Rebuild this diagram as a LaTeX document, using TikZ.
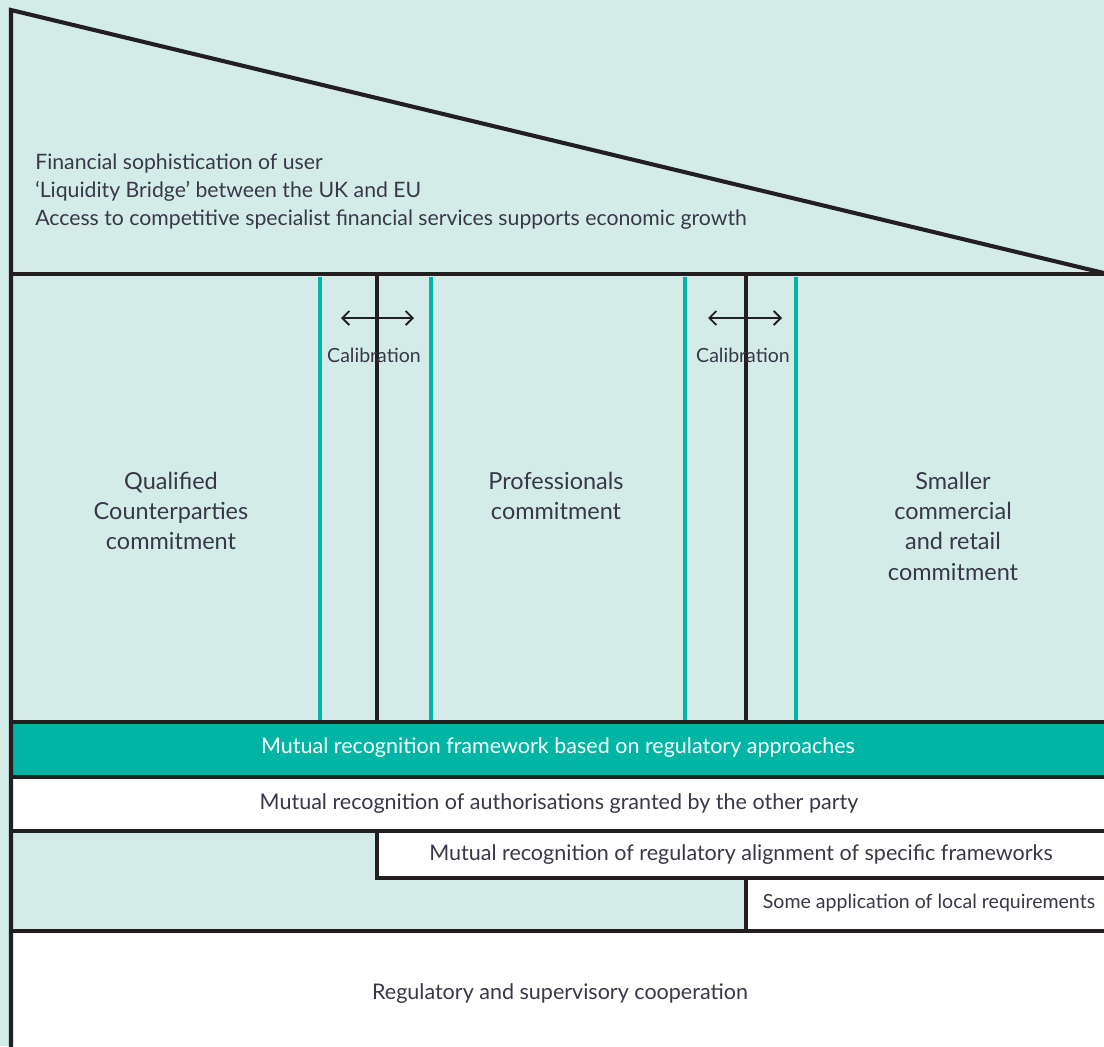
\documentclass[tikz,border=0pt]{standalone}
\usepackage{fontspec}
\setmainfont{Lato}
\usepackage{xcolor}
\usetikzlibrary{positioning, arrows.meta}
\definecolor{paleteal}{HTML}{D4ECE8}
\definecolor{mrteal}{HTML}{00B5A3}
\definecolor{inkgrey}{HTML}{383848}
\definecolor{framegrey}{HTML}{231F20}

\begin{document}
\begin{tikzpicture}[x=0.025cm, y=-0.025cm,
  frame/.style={line width=2.9pt, draw=framegrey},
  calib/.style={line width=2.8pt, draw=mrteal},
  txt/.style={text=inkgrey, inner sep=0pt, align=center},
  toptxt/.style={txt, align=left, anchor=west, font=\fontsize{15.1}{19.9}\selectfont},
  coltxt/.style={txt, font=\fontsize{16.7}{21.6}\selectfont},
  bandtxt/.style={txt, font=\fontsize{15.3}{18}\selectfont},
  smalltxt/.style={txt, font=\fontsize{13.9}{16}\selectfont}]
  % Canvas
  \useasboundingbox (0,0) rectangle (1104,1046);
  \fill[paleteal] (0,0) rectangle (1104,1046);
  % White bands
  \fill[white] (11,777) rectangle (1104,831);
  \fill[white] (377,831) rectangle (1104,878);
  \fill[white] (746,878) rectangle (1104,931);
  \fill[white] (11,931) rectangle (1104,1046);
  \fill[mrteal] (11,722) rectangle (1104,777);
  % Teal calibration lines
  \foreach \x in {320,431,685,796}
      \draw[calib] (\x,277) -- (\x,720);
  % Frame
  \draw[frame, line join=miter] (11,1050) -- (11,10) -- (1110,274.5);
  \draw[frame] (11,274) -- (1104,274);
  \draw[frame] (377,274) -- (377,722);
  \draw[frame] (746,274) -- (746,722);
  \draw[frame] (11,722) -- (1104,722);
  \draw[frame] (11,777) -- (1104,777);
  \draw[frame] (11,831) -- (1104,831);
  \draw[frame] (377,831) -- (377,878) -- (1104,878);
  \draw[frame] (746,878) -- (746,931);
  \draw[frame] (11,931) -- (1104,931);
  % Top text
  \node[toptxt] (user) at (35,192) {Financial sophistication of user\\
    ‘Liquidity Bridge’ between the UK and EU\\
    Access to competitive specialist financial services supports economic growth};
  % Calibration
  \coordinate (cala) at (341,318);
  \coordinate (calb) at (414,318);
  \coordinate (calc) at (708,318);
  \coordinate (cald) at (782,318);
  \draw[{Straight Barb[length=5pt,width=10pt]}-{Straight Barb[length=5pt,width=10pt]}, line width=1.3pt, framegrey] (cala) -- (calb);
  \draw[{Straight Barb[length=5pt,width=10pt]}-{Straight Barb[length=5pt,width=10pt]}, line width=1.3pt, framegrey] (calc) -- (cald);
  \node[smalltxt] (calone) at (374,355) {Calibration};
  \node[smalltxt] (caltwo) at (743,355) {Calibration};
  % Columns
  \node[coltxt] (qcp) at (171,511) {Qualified\\Counterparties\\commitment};
  \node[coltxt] (prof) at (556,496) {Professionals\\commitment};
  \node[coltxt] (retail) at (953,526) {Smaller\\commercial\\and retail\\commitment};
  % Bands
  \node[bandtxt, text=white] (mrf) at (558,748) {Mutual recognition framework based on regulatory approaches};
  \node[bandtxt] (auth) at (559,804) {Mutual recognition of authorisations granted by the other party};
  \node[bandtxt] (align) at (741,855) {Mutual recognition of regulatory alignment of specific frameworks};
  \node[smalltxt] (local) at (929,903) {Some application of local requirements};
  \node[bandtxt] (coop) at (560,994) {Regulatory and supervisory cooperation};
\end{tikzpicture}
\end{document}
